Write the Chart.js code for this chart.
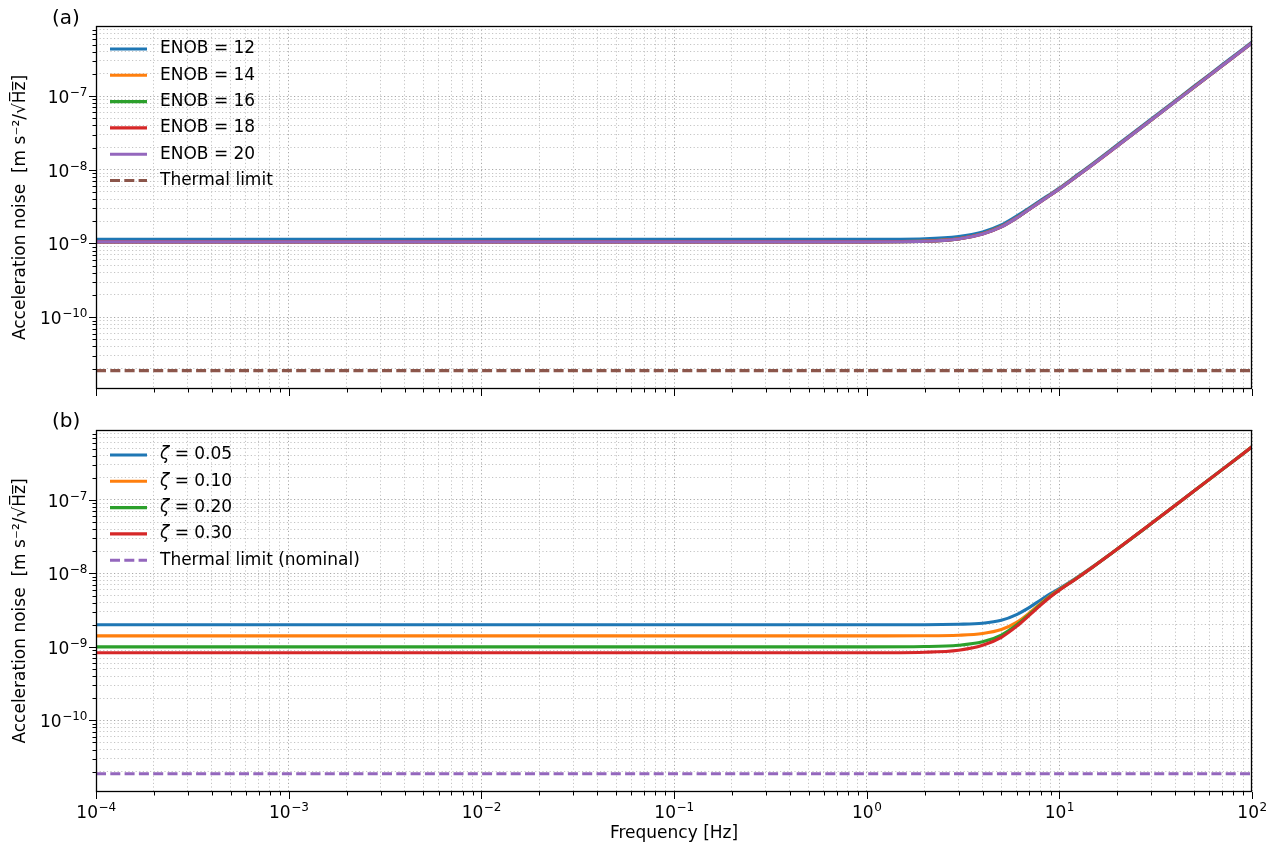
<!DOCTYPE html>
<html><head><meta charset="utf-8">
<script src="https://cdn.jsdelivr.net/npm/chart.js@4.4.1/dist/chart.umd.min.js"></script>
<style>
html,body{margin:0;padding:0;background:#fff;width:1282px;height:852px;overflow:hidden;font-family:"DejaVu Sans",sans-serif;}
.wrap{position:absolute;left:0;width:1282px;}
#w1{top:0;height:399px;}
#w2{top:400px;height:452px;}
.plab{position:absolute;font-size:20px;color:#000;font-family:"DejaVu Sans",sans-serif;line-height:24px;}
</style></head><body>
<div id="w1" class="wrap"><canvas id="c1"></canvas></div>
<div id="w2" class="wrap"><canvas id="c2"></canvas></div>
<div class="plab" style="left:52px;top:5px">(a)</div>
<div class="plab" style="left:52px;top:408px">(b)</div>
<script>
// ---------------- data ----------------
const freqHz = [1e-4, 1e-3, 1e-2, 1e-1, 1, 2, 3, 4, 5, 6, 7, 8, 9, 10, 12, 15, 20, 30, 50, 70, 100];

const enob12 = [1.14e-9, 1.14e-9, 1.14e-9, 1.14e-9, 1.14e-9, 1.16e-9, 1.24e-9, 1.43e-9, 1.78e-9, 2.35e-9, 3.05e-9, 3.85e-9, 4.7e-9, 5.65e-9, 8.0e-9, 1.23e-8, 2.18e-8, 4.88e-8, 1.355e-7, 2.656e-7, 5.42e-7];
const enob14 = [1.06e-9, 1.06e-9, 1.06e-9, 1.06e-9, 1.06e-9, 1.08e-9, 1.16e-9, 1.36e-9, 1.70e-9, 2.24e-9, 2.94e-9, 3.72e-9, 4.58e-9, 5.52e-9, 7.8e-9, 1.2e-8, 2.12e-8, 4.75e-8, 1.32e-7, 2.59e-7, 5.28e-7];
const enob16 = [1.05e-9, 1.05e-9, 1.05e-9, 1.05e-9, 1.05e-9, 1.07e-9, 1.15e-9, 1.35e-9, 1.69e-9, 2.22e-9, 2.93e-9, 3.71e-9, 4.56e-9, 5.5e-9, 7.77e-9, 1.195e-8, 2.11e-8, 4.74e-8, 1.317e-7, 2.58e-7, 5.26e-7];
const enob18 = [1.05e-9, 1.05e-9, 1.05e-9, 1.05e-9, 1.05e-9, 1.07e-9, 1.15e-9, 1.345e-9, 1.68e-9, 2.22e-9, 2.92e-9, 3.7e-9, 4.55e-9, 5.49e-9, 7.76e-9, 1.19e-8, 2.105e-8, 4.73e-8, 1.315e-7, 2.575e-7, 5.25e-7];
const enob20 = [1.05e-9, 1.05e-9, 1.05e-9, 1.05e-9, 1.05e-9, 1.07e-9, 1.15e-9, 1.345e-9, 1.68e-9, 2.22e-9, 2.92e-9, 3.7e-9, 4.55e-9, 5.48e-9, 7.75e-9, 1.186e-8, 2.1e-8, 4.725e-8, 1.3125e-7, 2.5725e-7, 5.25e-7];

const zeta005 = [2.0e-9, 2.0e-9, 2.0e-9, 2.0e-9, 2.0e-9, 2.0e-9, 2.03e-9, 2.1e-9, 2.3e-9, 2.75e-9, 3.45e-9, 4.35e-9, 5.3e-9, 6.2e-9, 8.35e-9, 1.245e-8, 2.15e-8, 4.77e-8, 1.322e-7, 2.582e-7, 5.27e-7];
const zeta010 = [1.41e-9, 1.41e-9, 1.41e-9, 1.41e-9, 1.41e-9, 1.415e-9, 1.44e-9, 1.52e-9, 1.72e-9, 2.15e-9, 2.9e-9, 3.9e-9, 4.97e-9, 6.02e-9, 8.25e-9, 1.24e-8, 2.145e-8, 4.765e-8, 1.321e-7, 2.581e-7, 5.27e-7];
const zeta020 = [1.0e-9, 1.0e-9, 1.0e-9, 1.0e-9, 1.0e-9, 1.01e-9, 1.05e-9, 1.17e-9, 1.45e-9, 1.98e-9, 2.78e-9, 3.78e-9, 4.87e-9, 5.95e-9, 8.2e-9, 1.235e-8, 2.14e-8, 4.76e-8, 1.32e-7, 2.58e-7, 5.27e-7];
const zeta030 = [0.83e-9, 0.83e-9, 0.83e-9, 0.83e-9, 0.83e-9, 0.845e-9, 0.9e-9, 1.05e-9, 1.35e-9, 1.9e-9, 2.7e-9, 3.7e-9, 4.8e-9, 5.9e-9, 8.15e-9, 1.23e-8, 2.14e-8, 4.76e-8, 1.32e-7, 2.58e-7, 5.27e-7];

const thermalFreq = [1e-4, 1e2];
const thermalA = [1.88e-11, 1.88e-11];
const thermalB = [1.88e-11, 1.88e-11];

const labelsA = ['ENOB = 12', 'ENOB = 14', 'ENOB = 16', 'ENOB = 18', 'ENOB = 20', 'Thermal limit'];
const labelsB = ['0.05', '0.10', '0.20', '0.30', 'Thermal limit (nominal)'];
const xRange = [1e-4, 1e2];
const yRange = [1.06e-11, 8.93e-7];

// ---------------- helpers ----------------
const C = ['#1f77b4', '#ff7f0e', '#2ca02c', '#d62728', '#9467bd', '#8c564b'];
const FONT = '"DejaVu Sans", sans-serif';
const LW = 3.1;
function logTicks(min,max){const t=[];for(let e=Math.floor(Math.log10(min));e<=Math.ceil(Math.log10(max));e++){for(let m=1;m<10;m++){const v=parseFloat((m*Math.pow(10,e)).toPrecision(6));if(v>=min*0.9999&&v<=max*1.0001)t.push({value:v,major:m===1});}}return t;}
function pts(xs,ys){return xs.map((x,i)=>({x:x,y:ys[i]}));}
function expStr(v){const e=Math.round(Math.log10(v));return (e<0?'\u2212':'')+Math.abs(e);}

function line(label,ys,color,idx,xs,dash){
  return {label:label,data:pts(xs||freqHz,ys),borderColor:color,backgroundColor:color,borderWidth:LW,order:-idx,
    pointRadius:0,fill:false,cubicInterpolationMode:'monotone',borderDash:dash||[],borderCapStyle:'butt'};
}

function drawPow(ctx, v, x, baseY, anchor){
  ctx.font = '17px '+FONT;
  const wb = ctx.measureText('10').width;
  const es = expStr(v);
  ctx.font = '12px '+FONT;
  const we = ctx.measureText(es).width;
  const w = wb + we;
  const x0 = anchor==='right' ? x - w : x - w/2;
  ctx.textAlign = 'left';
  ctx.textBaseline = 'alphabetic';
  ctx.font = '17px '+FONT;
  ctx.fillText('10', x0, baseY);
  ctx.font = '12px '+FONT;
  ctx.fillText(es, x0+wb+0.5, baseY-7);
}

const framePlugin = {
  id:'frame',
  afterDraw(chart, args, opts){
    const {ctx, chartArea:a, scales} = chart;
    ctx.save();
    ctx.strokeStyle = '#000';
    ctx.lineWidth = 1;
    ctx.beginPath();
    for (const t of scales.x.ticks){
      const p = Math.round(scales.x.getPixelForValue(t.value))+0.5;
      const L = t.major?7:3.5;
      ctx.moveTo(p, a.bottom); ctx.lineTo(p, a.bottom+L);
    }
    for (const t of scales.y.ticks){
      const p = Math.round(scales.y.getPixelForValue(t.value))+0.5;
      const L = t.major?7:3.5;
      ctx.moveTo(a.left, p); ctx.lineTo(a.left-L, p);
    }
    ctx.stroke();
    ctx.lineWidth = 1.3;
    ctx.strokeRect(Math.round(a.left)+0.5, Math.round(a.top)+0.5, Math.round(a.right-a.left)-1, Math.round(a.bottom-a.top)-1);
    ctx.fillStyle = '#000';
    for (const t of scales.y.ticks){
      if (!t.major) continue;
      const p = scales.y.getPixelForValue(t.value);
      drawPow(ctx, t.value, a.left-9, p+7, 'right');
    }
    if (opts.showX){
      for (const t of scales.x.ticks){
        if (!t.major) continue;
        const p = scales.x.getPixelForValue(t.value);
        drawPow(ctx, t.value, p, a.bottom+26, 'center');
      }
    }
    ctx.restore();
  },
  afterDatasetsDraw(chart, args, opts){
    const {ctx, chartArea:a} = chart;
    const ds = chart.data.datasets;
    ctx.save();
    ctx.textBaseline = 'middle';
    ctx.textAlign = 'left';
    ctx.fillStyle = '#000';
    ds.forEach((d,i)=>{
      const y = a.top + opts.top + i*26.3;
      ctx.beginPath();
      ctx.strokeStyle = d.borderColor;
      ctx.lineWidth = LW;
      ctx.setLineDash(d.borderDash||[]);
      ctx.moveTo(a.left+14, y); ctx.lineTo(a.left+51, y);
      ctx.stroke();
      ctx.setLineDash([]);
      let x = a.left+64;
      if (opts.zeta && i < 4){
        ctx.font = 'italic 17px '+FONT;
        ctx.fillText('\u03B6', x, y);
        x += ctx.measureText('\u03B6').width;
        ctx.font = '17px '+FONT;
        ctx.fillText(' = '+opts.labels[i], x, y);
      } else {
        ctx.font = '17px '+FONT;
        ctx.fillText(opts.labels[i], x, y);
      }
    });
    ctx.restore();
  }
};

function makeOptions(showX, pad, xHeight, frameOpts){
  const gridColor = (ctx)=> (ctx.tick && ctx.tick.major) ? '#a8a8a8' : '#c4c4c4';
  return {
    responsive:true, maintainAspectRatio:false, animation:false,
    layout:{padding:{left:0,right:30,top:pad,bottom:0}},
    plugins:{legend:{display:false}, tooltip:{enabled:false}, frame:frameOpts},
    scales:{
      x:{type:'logarithmic', min:xRange[0], max:xRange[1], bounds:'data',
        afterBuildTicks:(s)=>{s.ticks = logTicks(xRange[0], xRange[1]);},
        afterFit:(s)=>{s.height = xHeight;},
        border:{display:false, dash:[1.2,2.4]},
        grid:{drawTicks:false, color:gridColor, lineWidth:1},
        ticks:{display:false, autoSkip:false, maxRotation:0},
        title:{display:showX, text:'Frequency [Hz]', color:'#000', font:{family:FONT,size:17}, padding:{top:0,bottom:8}}
      },
      y:{type:'logarithmic', min:yRange[0], max:yRange[1], bounds:'data',
        afterBuildTicks:(s)=>{s.ticks = logTicks(yRange[0], yRange[1]);},
        afterFit:(s)=>{s.width = 96;},
        border:{display:false, dash:[1.2,2.4]},
        grid:{drawTicks:false, color:gridColor, lineWidth:1},
        ticks:{display:false, autoSkip:false},
        title:{display:true, text:'Acceleration noise  [m s\u207B\u00B2/\u221AH\u0305z\u0305]', color:'#000', font:{family:FONT,size:17}, padding:{top:10,bottom:0}}
      }
    }
  };
}

new Chart(document.getElementById('c1'), {
  type:'line',
  data:{datasets:[
    line(labelsA[0], enob12, C[0], 0),
    line(labelsA[1], enob14, C[1], 1),
    line(labelsA[2], enob16, C[2], 2),
    line(labelsA[3], enob18, C[3], 3),
    line(labelsA[4], enob20, C[4], 4),
    line(labelsA[5], thermalA, C[5], 5, thermalFreq, [10,4.3])
  ]},
  options: makeOptions(false, 26, 10, {top:23, labels:labelsA, zeta:false, showX:false}),
  plugins:[framePlugin]
});

new Chart(document.getElementById('c2'), {
  type:'line',
  data:{datasets:[
    line('zeta 0.05', zeta005, C[0], 0),
    line('zeta 0.10', zeta010, C[1], 1),
    line('zeta 0.20', zeta020, C[2], 2),
    line('zeta 0.30', zeta030, C[3], 3),
    line(labelsB[4], thermalB, C[4], 4, thermalFreq, [10,4.3])
  ]},
  options: makeOptions(true, 30, 60, {top:25, labels:labelsB, zeta:true, showX:true}),
  plugins:[framePlugin]
});
</script>
</body></html>
